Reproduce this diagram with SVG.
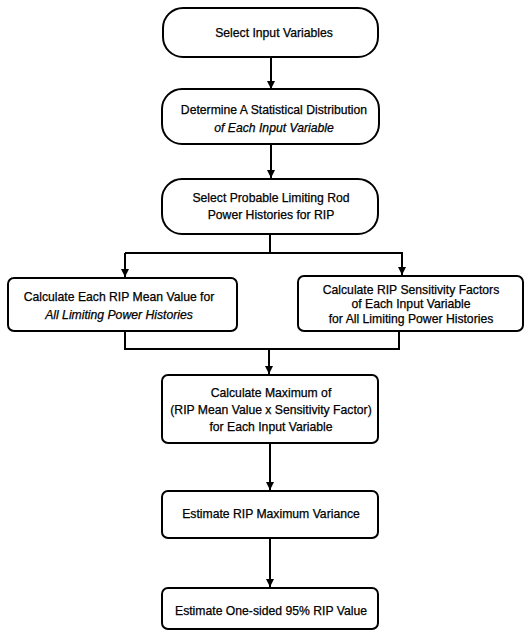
<svg xmlns="http://www.w3.org/2000/svg" width="529" height="632" viewBox="0 0 529 632">
<style>
.box{fill:#fff;stroke:#000;stroke-width:2}
.t{font-family:"Liberation Sans",Arial,sans-serif;font-size:12.2px;fill:#000;text-anchor:middle;stroke:#000;stroke-width:0.25}
.i{font-style:italic}
.c{fill:none;stroke:#000;stroke-width:2}
</style>
<defs>
<marker id="ah" viewBox="0 0 10 10" refX="10" refY="5" markerWidth="4" markerHeight="4.5" orient="auto" markerUnits="strokeWidth">
<path d="M0,0 L10,5 L0,10 z" fill="#000"/>
</marker>
</defs>
<g id="connectors">
<line class="c" x1="271" y1="57" x2="271" y2="89" marker-end="url(#ah)"/>
<line class="c" x1="271" y1="144" x2="271" y2="178" marker-end="url(#ah)"/>
<line class="c" x1="270" y1="234" x2="270" y2="253"/>
<polyline class="c" points="125,253 402,253 402,275" marker-end="url(#ah)"/>
<line class="c" x1="125" y1="253" x2="125" y2="277" marker-end="url(#ah)"/>
<polyline class="c" points="125,331 125,349 399,349 399,331"/>
<line class="c" x1="269" y1="349" x2="269" y2="374" marker-end="url(#ah)"/>
<line class="c" x1="270" y1="443" x2="270" y2="490" marker-end="url(#ah)"/>
<line class="c" x1="270" y1="538" x2="270" y2="587" marker-end="url(#ah)"/>
</g>
<g id="n1">
<rect class="box" x="163" y="8" width="215" height="49" rx="20" ry="20"/>
<text class="t" x="274" y="37">Select Input Variables</text>
</g>
<g id="n2">
<rect class="box" x="162" y="89" width="217" height="55" rx="20" ry="20"/>
<text class="t" x="274" y="114">Determine A Statistical Distribution</text>
<text class="t i" x="274" y="132">of Each Input Variable</text>
</g>
<g id="n3">
<rect class="box" x="162" y="179" width="216" height="55" rx="20" ry="20"/>
<text class="t" x="271" y="202">Select Probable Limiting Rod</text>
<text class="t" x="271" y="219">Power Histories for RIP</text>
</g>
<g id="n4">
<rect class="box" x="8" y="278" width="229" height="53" rx="6" ry="6"/>
<text class="t" x="119" y="301">Calculate Each RIP Mean Value for</text>
<text class="t i" x="119" y="319">All Limiting Power Histories</text>
</g>
<g id="n5">
<rect class="box" x="298" y="276" width="225" height="55" rx="6" ry="6"/>
<text class="t" x="411" y="294">Calculate RIP Sensitivity Factors</text>
<text class="t" x="411" y="308">of Each Input Variable</text>
<text class="t" x="411" y="323">for All Limiting Power Histories</text>
</g>
<g id="n6">
<rect class="box" x="162" y="375" width="216" height="68" rx="6" ry="6"/>
<text class="t" x="271" y="397">Calculate Maximum of</text>
<text class="t" x="271" y="414">(RIP Mean Value x Sensitivity Factor)</text>
<text class="t" x="271" y="431">for Each Input Variable</text>
</g>
<g id="n7">
<rect class="box" x="162" y="491" width="216" height="47" rx="6" ry="6"/>
<text class="t" x="271" y="518">Estimate RIP Maximum Variance</text>
</g>
<g id="n8">
<rect class="box" x="162" y="588" width="216" height="41" rx="6" ry="6"/>
<text class="t" x="271" y="615">Estimate One-sided 95% RIP Value</text>
</g>
</svg>
